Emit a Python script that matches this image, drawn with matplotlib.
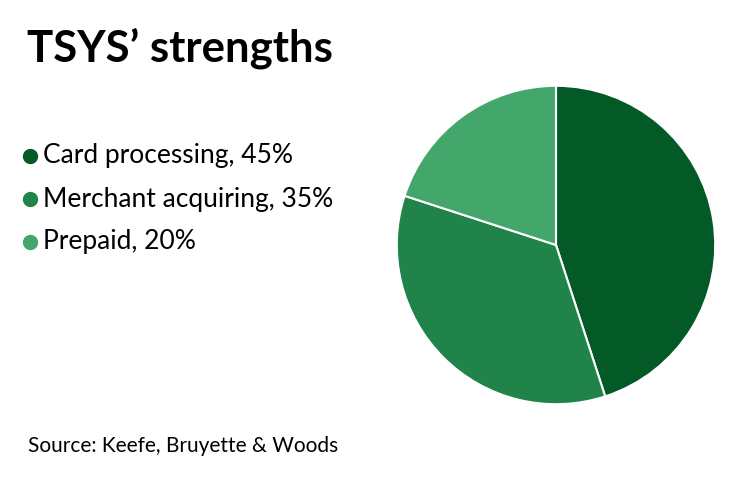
import matplotlib.pyplot as plt
from matplotlib.lines import Line2D

categories = ['Card processing', 'Merchant acquiring', 'Prepaid']
shares = [45, 35, 20]
colors = ['#045a27', '#208349', '#43a66b']

plt.rcParams['font.family'] = ['Lato', 'DejaVu Sans']

fig = plt.figure(figsize=(7.4, 4.82), dpi=100)
W, H = 740, 482

# pie
ax = fig.add_axes([396 / W, (H - 405) / H, 320 / W, 320 / H])
ax.pie(shares, colors=colors, startangle=90, counterclock=False,
       wedgeprops=dict(edgecolor='white', linewidth=1.5))
ax.set_xlim(-1.005, 1.005)
ax.set_ylim(-1.005, 1.005)
ax.set_aspect('equal')
ax.axis('off')

# title
fig.text(27 / W, (H - 48) / H, "TSYS\u2019 strengths", fontsize=31.5, fontweight='bold',
         va='center', ha='left')

# legend rows
rows_y = [156, 199, 242]
for name, val, col, y in zip(categories, shares, colors, rows_y):
    fig.add_artist(Line2D([30 / W], [(H - y) / H], marker='o', markersize=10,
                          color=col, transform=fig.transFigure))
    fig.text(43 / W, (H - y) / H, f'{name}, {val}%', fontsize=19,
             va='center', ha='left')

fig.text(28 / W, (H - 446) / H, 'Source: Keefe, Bruyette & Woods', fontsize=15,
         va='center', ha='left')

fig.savefig('out.png', dpi=100)
